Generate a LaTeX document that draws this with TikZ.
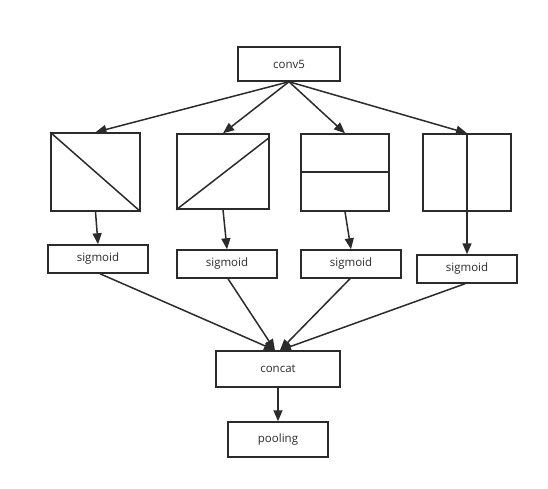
\documentclass[tikz,border=0pt]{standalone}
\usepackage{fontspec}
\setmainfont{Open Sans}
\usetikzlibrary{arrows.meta,calc}
\definecolor{ink}{HTML}{2B2B2B}
\tikzset{
  box/.style={draw=ink, line width=1.5pt, rectangle, inner sep=0pt, font=\fontsize{11.5}{13}\selectfont, text=ink},
  arr/.style={draw=ink, line width=1.5pt, -{Triangle[length=11pt,width=9pt]}},
  ln/.style={draw=ink, line width=1.5pt}
}
\begin{document}
\begin{tikzpicture}[x=1pt,y=-1pt]
\useasboundingbox (0,0) rectangle (548,489);
\node[box, minimum width=102pt, minimum height=34pt] (conv5) at (289,64) {conv5};
\node[box, minimum width=89pt, minimum height=78pt] (b1) at (95.5,172) {};
\node[box, minimum width=92pt, minimum height=75pt] (b2) at (223,171.5) {};
\node[box, minimum width=88pt, minimum height=77pt] (b3) at (345,172.5) {};
\node[box, minimum width=88pt, minimum height=77pt] (b4) at (467,172.5) {};
\node[box, minimum width=100pt, minimum height=28pt] (s1) at (98,259) {sigmoid};
\node[box, minimum width=100pt, minimum height=28pt] (s2) at (227,264) {sigmoid};
\node[box, minimum width=100pt, minimum height=28pt] (s3) at (351,264) {sigmoid};
\node[box, minimum width=100pt, minimum height=28pt] (s4) at (467,269) {sigmoid};
\node[box, minimum width=124pt, minimum height=36pt] (cc) at (278,369) {concat};
\node[box, minimum width=100pt, minimum height=35pt] (pool) at (278,439.5) {pooling};
% inner lines
\draw[ln] (b1.north west) -- (b1.south east);
\draw[ln] (b2.south west) -- ($(b2.north east)+(0,4)$);
\draw[ln] ($(b3.west)+(0,-0.5)$) -- ($(b3.east)+(0,-0.5)$);
\draw[ln] (b4.north) -- (b4.south);
% arrows from conv5
\draw[arr] (conv5.south) -- (b1.north);
\draw[arr] (conv5.south) -- (b2.north);
\draw[arr] (conv5.south) -- (b3.north);
\draw[arr] (conv5.south) -- (b4.north);
% boxes to sigmoid
\draw[arr] (b1.south) -- (s1.north);
\draw[arr] (b2.south) -- (s2.north);
\draw[arr] (b3.south) -- (s3.north);
\draw[arr] (b4.south) -- (s4.north);
% sigmoid to concat
\draw[arr] ($(s1.south)+(2,0)$) -- ($(cc.north)+(-3,0)$);
\draw[arr] ($(s2.south)+(1,0)$) -- ($(cc.north)+(-3,0)$);
\draw[arr] ($(s3.south)+(-1,0)$) -- ($(cc.north)+(2,0)$);
\draw[arr] ($(s4.south)+(-2,0)$) -- ($(cc.north)+(2,0)$);
% concat to pooling
\draw[arr] (cc.south) -- (pool.north);
\end{tikzpicture}
\end{document}
